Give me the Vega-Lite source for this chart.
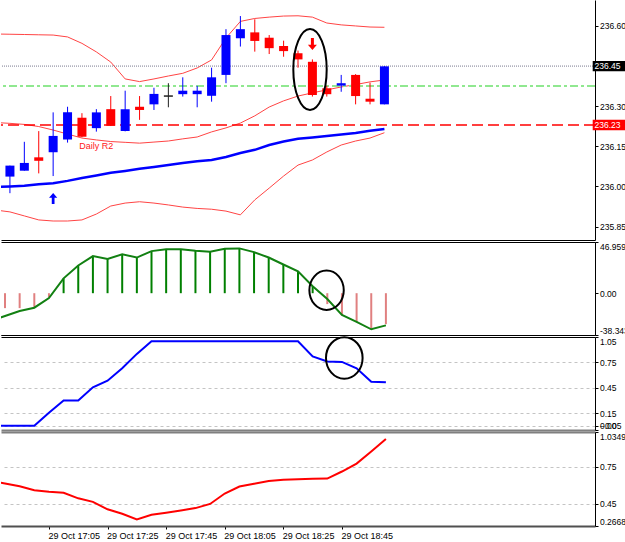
{
  "$schema": "https://vega.github.io/schema/vega-lite/v6.json",
  "background": "#ffffff",
  "padding": 0,
  "spacing": 2,
  "bounds": "flush",
  "config": {
    "view": {"stroke": null},
    "axis": {"labelFont": "Liberation Sans", "labelFontSize": 8.5, "labelColor": "#000000", "tickColor": "#000000", "domainColor": "#000000", "tickSize": 3, "labelPadding": 1.5, "labelOverlap": false, "title": null, "grid": false},
    "text": {"font": "Liberation Sans"}
  },
  "datasets": {
    "bars": [
      {"t": "2007-10-29T16:45:00", "bu": 236.570, "bm": 236.239, "bl": 235.912, "ma": 235.998, "osc": -25.4, "k": 0, "r": 0.638},
      {"t": "2007-10-29T16:50:00", "o": 236.037, "h": 236.078, "l": 235.975, "c": 236.078, "bu": 236.569, "bm": 236.236, "bl": 235.905, "ma": 236.000, "osc": -20.9, "hist": -13.7, "k": 0, "r": 0.614},
      {"t": "2007-10-29T16:55:00", "o": 236.059, "h": 236.167, "l": 236.059, "c": 236.088, "bu": 236.568, "bm": 236.232, "bl": 235.890, "ma": 236.003, "osc": -16.3, "hist": -13.7, "k": 0, "r": 0.591},
      {"t": "2007-10-29T17:00:00", "o": 236.109, "h": 236.207, "l": 236.049, "c": 236.096, "bu": 236.567, "bm": 236.224, "bl": 235.875, "ma": 236.008, "osc": -13.3, "hist": -13.3, "k": 0, "r": 0.559},
      {"t": "2007-10-29T17:05:00", "o": 236.128, "h": 236.277, "l": 236.039, "c": 236.189, "bu": 236.566, "bm": 236.211, "bl": 235.871, "ma": 236.012, "osc": -4.5, "hist": -3.8, "k": 0.155, "r": 0.546},
      {"t": "2007-10-29T17:10:00", "o": 236.176, "h": 236.298, "l": 236.164, "c": 236.277, "bu": 236.559, "bm": 236.196, "bl": 235.871, "ma": 236.021, "osc": 13.6, "hist": 13.6, "k": 0.30, "r": 0.538},
      {"t": "2007-10-29T17:15:00", "o": 236.257, "h": 236.274, "l": 236.184, "c": 236.186, "bu": 236.535, "bm": 236.181, "bl": 235.875, "ma": 236.032, "osc": 25.4, "hist": 25.4, "k": 0.30, "r": 0.493},
      {"t": "2007-10-29T17:20:00", "o": 236.218, "h": 236.289, "l": 236.205, "c": 236.277, "bu": 236.503, "bm": 236.174, "bl": 235.897, "ma": 236.041, "osc": 34.0, "hist": 34.0, "k": 0.455, "r": 0.464},
      {"t": "2007-10-29T17:25:00", "o": 236.289, "h": 236.338, "l": 236.226, "c": 236.227, "bu": 236.465, "bm": 236.168, "bl": 235.927, "ma": 236.051, "osc": 31.3, "hist": 31.3, "k": 0.533, "r": 0.403},
      {"t": "2007-10-29T17:30:00", "o": 236.207, "h": 236.358, "l": 236.206, "c": 236.289, "bu": 236.402, "bm": 236.165, "bl": 235.938, "ma": 236.058, "osc": 35.7, "hist": 35.7, "k": 0.68, "r": 0.367},
      {"t": "2007-10-29T17:35:00", "o": 236.298, "h": 236.338, "l": 236.249, "c": 236.286, "bu": 236.392, "bm": 236.162, "bl": 235.943, "ma": 236.066, "osc": 32.7, "hist": 32.7, "k": 0.85, "r": 0.321},
      {"t": "2007-10-29T17:40:00", "o": 236.307, "h": 236.369, "l": 236.286, "c": 236.346, "bu": 236.402, "bm": 236.166, "bl": 235.938, "ma": 236.073, "osc": 38.6, "hist": 38.6, "k": 1.0, "r": 0.358},
      {"t": "2007-10-29T17:45:00", "o": 236.338, "h": 236.386, "l": 236.296, "c": 236.338, "bu": 236.413, "bm": 236.170, "bl": 235.931, "ma": 236.080, "osc": 40.2, "hist": 40.2, "k": 1.0, "r": 0.375},
      {"t": "2007-10-29T17:50:00", "o": 236.345, "h": 236.408, "l": 236.336, "c": 236.358, "bu": 236.423, "bm": 236.178, "bl": 235.923, "ma": 236.088, "osc": 40.2, "hist": 40.2, "k": 1.0, "r": 0.393},
      {"t": "2007-10-29T17:55:00", "o": 236.345, "h": 236.376, "l": 236.296, "c": 236.358, "bu": 236.443, "bm": 236.185, "bl": 235.918, "ma": 236.094, "osc": 39.0, "hist": 39.0, "k": 1.0, "r": 0.413},
      {"t": "2007-10-29T18:00:00", "o": 236.339, "h": 236.444, "l": 236.317, "c": 236.408, "bu": 236.473, "bm": 236.204, "bl": 235.915, "ma": 236.099, "osc": 38.1, "hist": 38.1, "k": 1.0, "r": 0.447},
      {"t": "2007-10-29T18:05:00", "o": 236.417, "h": 236.588, "l": 236.386, "c": 236.566, "bu": 236.555, "bm": 236.219, "bl": 235.908, "ma": 236.110, "osc": 40.8, "hist": 40.8, "k": 1.0, "r": 0.532},
      {"t": "2007-10-29T18:10:00", "o": 236.554, "h": 236.637, "l": 236.523, "c": 236.588, "bu": 236.617, "bm": 236.237, "bl": 235.894, "ma": 236.125, "osc": 41.1, "hist": 41.1, "k": 1.0, "r": 0.589},
      {"t": "2007-10-29T18:15:00", "o": 236.576, "h": 236.625, "l": 236.504, "c": 236.544, "bu": 236.628, "bm": 236.264, "bl": 235.950, "ma": 236.137, "osc": 37.7, "hist": 37.7, "k": 1.0, "r": 0.612},
      {"t": "2007-10-29T18:20:00", "o": 236.556, "h": 236.566, "l": 236.495, "c": 236.517, "bu": 236.633, "bm": 236.297, "bl": 235.994, "ma": 236.155, "osc": 32.7, "hist": 32.7, "k": 1.0, "r": 0.634},
      {"t": "2007-10-29T18:25:00", "o": 236.525, "h": 236.545, "l": 236.485, "c": 236.506, "bu": 236.637, "bm": 236.320, "bl": 236.039, "ma": 236.168, "osc": 26.3, "hist": 26.3, "k": 1.0, "r": 0.645},
      {"t": "2007-10-29T18:30:00", "o": 236.498, "h": 236.508, "l": 236.444, "c": 236.475, "bu": 236.638, "bm": 236.338, "bl": 236.080, "ma": 236.178, "osc": 20.0, "hist": 20.0, "k": 1.0, "r": 0.649},
      {"t": "2007-10-29T18:35:00", "o": 236.466, "h": 236.475, "l": 236.336, "c": 236.342, "bu": 236.633, "bm": 236.350, "bl": 236.099, "ma": 236.183, "osc": 6.4, "hist": 6.4, "k": 0.82, "r": 0.653},
      {"t": "2007-10-29T18:40:00", "o": 236.367, "h": 236.376, "l": 236.336, "c": 236.345, "bu": 236.611, "bm": 236.361, "bl": 236.129, "ma": 236.189, "osc": -5.4, "hist": -10.0, "k": 0.76, "r": 0.654},
      {"t": "2007-10-29T18:45:00", "o": 236.377, "h": 236.417, "l": 236.354, "c": 236.386, "bu": 236.604, "bm": 236.372, "bl": 236.155, "ma": 236.194, "osc": -20.0, "hist": -20.3, "k": 0.755, "r": 0.712},
      {"t": "2007-10-29T18:50:00", "o": 236.417, "h": 236.420, "l": 236.307, "c": 236.338, "bu": 236.600, "bm": 236.381, "bl": 236.170, "ma": 236.200, "osc": -26.3, "hist": -26.3, "k": 0.68, "r": 0.777},
      {"t": "2007-10-29T18:55:00", "o": 236.328, "h": 236.388, "l": 236.307, "c": 236.317, "bu": 236.596, "bm": 236.391, "bl": 236.181, "ma": 236.208, "osc": -33.1, "hist": -32.4, "k": 0.52, "r": 0.875},
      {"t": "2007-10-29T19:00:00", "o": 236.307, "h": 236.450, "l": 236.307, "c": 236.449, "bu": 236.595, "bm": 236.398, "bl": 236.201, "ma": 236.215, "osc": -29.5, "hist": -28.4, "k": 0.514, "r": 0.977}
    ],
    "levels": [
      {"name": "Bid", "price": 236.45},
      {"name": "Pivot", "price": 236.376},
      {"name": "Daily R2", "price": 236.23}
    ],
    "notes": [
      {"panel": "price", "kind": "up", "t": "2007-10-29T17:05:00", "v": 235.955},
      {"panel": "price", "kind": "down", "t": "2007-10-29T18:35:00", "v": 236.533},
      {"panel": "price", "kind": "ring", "t": "2007-10-29T18:34:10", "v": 236.437},
      {"panel": "price", "kind": "label", "t": "2007-10-29T17:20:00", "v": 236.153, "text": "Daily R2"},
      {"panel": "osc", "kind": "ring", "t": "2007-10-29T18:39:45", "v": 2.7},
      {"panel": "stoch", "kind": "ring", "t": "2007-10-29T18:45:48", "v": 0.802}
    ]
  },
  "vconcat": [
    {
      "width": 594,
      "height": 240,
      "layer": [
        {
          "data": {"name": "bars"},
          "mark": {"type": "line", "clip": true, "color": "#ff4444", "strokeWidth": 1},
          "encoding": {
            "x": {"field": "t", "type": "temporal", "scale": {"domain": [{"year": 2007, "month": 10, "date": 29, "hours": 16, "minutes": 48, "seconds": 38}, {"year": 2007, "month": 10, "date": 29, "hours": 20, "minutes": 11, "seconds": 22}], "nice": false}, "axis": {"orient": "bottom", "title": null, "labels": false, "ticks": false, "domain": true, "domainColor": "#000000", "grid": false}},
            "y": {"field": "bu", "type": "quantitative", "scale": {"domain": [235.8, 236.697], "nice": false, "zero": false}, "axis": {"orient": "right", "title": null, "values": [236.6, 236.3, 236.15, 236.0, 235.85], "tickCount": 20, "format": ".2f", "domain": true, "grid": false}}
          }
        },
        {
          "data": {"name": "bars"},
          "mark": {"type": "line", "clip": true, "color": "#ff4444", "strokeWidth": 1},
          "encoding": {
            "x": {"field": "t", "type": "temporal"},
            "y": {"field": "bm", "type": "quantitative", "scale": {"domain": [235.8, 236.697], "nice": false, "zero": false}}
          }
        },
        {
          "data": {"name": "bars"},
          "mark": {"type": "line", "clip": true, "color": "#ff4444", "strokeWidth": 1},
          "encoding": {
            "x": {"field": "t", "type": "temporal"},
            "y": {"field": "bl", "type": "quantitative", "scale": {"domain": [235.8, 236.697], "nice": false, "zero": false}}
          }
        },
        {
          "data": {"name": "bars"},
          "mark": {"type": "line", "clip": true, "color": "#0000ff", "strokeWidth": 2.5},
          "encoding": {
            "x": {"field": "t", "type": "temporal"},
            "y": {"field": "ma", "type": "quantitative", "scale": {"domain": [235.8, 236.697], "nice": false, "zero": false}}
          }
        },
        {
          "data": {"name": "levels"},
          "transform": [{"filter": "datum.name == 'Bid'"}],
          "mark": {"type": "rule", "color": "#7a7a90", "strokeWidth": 1, "strokeDash": [1, 1]},
          "encoding": {
            "y": {"field": "price", "type": "quantitative", "scale": {"domain": [235.8, 236.697], "nice": false, "zero": false}}
          }
        },
        {
          "data": {"name": "levels"},
          "transform": [{"filter": "datum.name == 'Pivot'"}],
          "mark": {"type": "rule", "color": "#90e890", "strokeWidth": 2, "strokeDash": [8, 3, 3, 3]},
          "encoding": {
            "y": {"field": "price", "type": "quantitative", "scale": {"domain": [235.8, 236.697], "nice": false, "zero": false}}
          }
        },
        {
          "data": {"name": "levels"},
          "transform": [{"filter": "datum.name == 'Daily R2'"}],
          "mark": {"type": "rule", "color": "#ff0000", "strokeWidth": 1.5, "strokeDash": [11, 5]},
          "encoding": {
            "y": {"field": "price", "type": "quantitative", "scale": {"domain": [235.8, 236.697], "nice": false, "zero": false}}
          }
        },
        {
          "data": {"name": "bars"},
          "transform": [{"filter": "isValid(datum.o)"}],
          "mark": {"type": "rule", "strokeWidth": 1, "clip": true},
          "encoding": {
            "x": {"field": "t", "type": "temporal"},
            "y": {"field": "l", "type": "quantitative", "scale": {"domain": [235.8, 236.697], "nice": false, "zero": false}},
            "y2": {"field": "h"},
            "color": {"condition": [{"test": "datum.c == datum.o", "value": "#202020"}, {"test": "datum.c > datum.o", "value": "#0000ff"}], "value": "#ff0000"}
          }
        },
        {
          "data": {"name": "bars"},
          "transform": [{"filter": "isValid(datum.o) && datum.o != datum.c"}],
          "mark": {"type": "bar", "width": 9, "clip": true},
          "encoding": {
            "x": {"field": "t", "type": "temporal"},
            "y": {"field": "o", "type": "quantitative", "scale": {"domain": [235.8, 236.697], "nice": false, "zero": false}},
            "y2": {"field": "c"},
            "color": {"condition": {"test": "datum.c > datum.o", "value": "#0000ff"}, "value": "#ff0000"}
          }
        },
        {
          "data": {"name": "bars"},
          "transform": [{"filter": "isValid(datum.o) && datum.o == datum.c"}],
          "mark": {"type": "point", "shape": "stroke", "size": 81, "filled": false, "strokeWidth": 1.5, "color": "#202020", "opacity": 1},
          "encoding": {
            "x": {"field": "t", "type": "temporal"},
            "y": {"field": "o", "type": "quantitative", "scale": {"domain": [235.8, 236.697], "nice": false, "zero": false}}
          }
        },
        {
          "data": {"name": "notes"},
          "transform": [{"filter": "datum.kind == 'up'"}],
          "mark": {"type": "point", "shape": "M 0 -1 L 0.75 -0.15 L 0.25 -0.15 L 0.25 1 L -0.25 1 L -0.25 -0.15 L -0.75 -0.15 Z", "size": 121, "filled": true, "color": "#0000ff", "opacity": 1},
          "encoding": {
            "x": {"field": "t", "type": "temporal"},
            "y": {"field": "v", "type": "quantitative", "scale": {"domain": [235.8, 236.697], "nice": false, "zero": false}}
          }
        },
        {
          "data": {"name": "notes"},
          "transform": [{"filter": "datum.kind == 'down'"}],
          "mark": {"type": "point", "shape": "M 0 1 L 0.75 0.15 L 0.25 0.15 L 0.25 -1 L -0.25 -1 L -0.25 0.15 L -0.75 0.15 Z", "size": 144, "filled": true, "color": "#ff0000", "opacity": 1},
          "encoding": {
            "x": {"field": "t", "type": "temporal"},
            "y": {"field": "v", "type": "quantitative", "scale": {"domain": [235.8, 236.697], "nice": false, "zero": false}}
          }
        },
        {
          "data": {"name": "notes"},
          "transform": [{"filter": "datum.kind == 'ring' && datum.panel == 'price'"}],
          "mark": {"type": "point", "shape": "M -0.412 0 A 0.412 1 0 1 0 0.412 0 A 0.412 1 0 1 0 -0.412 0 Z", "size": 6561, "filled": false, "color": "#000000", "strokeWidth": 2, "opacity": 1},
          "encoding": {
            "x": {"field": "t", "type": "temporal"},
            "y": {"field": "v", "type": "quantitative", "scale": {"domain": [235.8, 236.697], "nice": false, "zero": false}}
          }
        },
        {
          "data": {"name": "notes"},
          "transform": [{"filter": "datum.kind == 'label'"}],
          "mark": {"type": "text", "align": "center", "baseline": "middle", "fontSize": 9, "color": "#ff2020"},
          "encoding": {
            "x": {"field": "t", "type": "temporal"},
            "y": {"field": "v", "type": "quantitative", "scale": {"domain": [235.8, 236.697], "nice": false, "zero": false}},
            "text": {"field": "text"}
          }
        },
        {
          "data": {"name": "levels"},
          "transform": [{"filter": "datum.name != 'Pivot'"}],
          "mark": {"type": "point", "shape": "M 0.27 -0.52 H 3.6 V 0.52 H 0.27 Z", "size": 400, "filled": true, "opacity": 1, "strokeWidth": 0},
          "encoding": {
            "x": {"datum": {"year": 2007, "month": 10, "date": 29, "hours": 20, "minutes": 11, "seconds": 22}, "type": "temporal"},
            "y": {"field": "price", "type": "quantitative", "scale": {"domain": [235.8, 236.697], "nice": false, "zero": false}},
            "color": {"field": "name", "type": "nominal", "scale": {"domain": ["Bid", "Daily R2"], "range": ["#000000", "#ff0000"]}, "legend": null}
          }
        },
        {
          "data": {"name": "levels"},
          "transform": [{"filter": "datum.name != 'Pivot'"}],
          "mark": {"type": "text", "align": "left", "baseline": "middle", "dx": 4.5, "fontSize": 8.5, "color": "#ffffff"},
          "encoding": {
            "x": {"datum": {"year": 2007, "month": 10, "date": 29, "hours": 20, "minutes": 11, "seconds": 22}, "type": "temporal"},
            "y": {"field": "price", "type": "quantitative", "scale": {"domain": [235.8, 236.697], "nice": false, "zero": false}},
            "text": {"field": "price", "format": ".2f"}
          }
        }
      ]
    },
    {
      "width": 594,
      "height": 93,
      "layer": [
        {
          "data": {"name": "bars"},
          "transform": [{"filter": "isValid(datum.hist)"}],
          "mark": {"type": "rule", "strokeWidth": 2, "clip": true},
          "encoding": {
            "x": {"field": "t", "type": "temporal", "scale": {"domain": [{"year": 2007, "month": 10, "date": 29, "hours": 16, "minutes": 48, "seconds": 38}, {"year": 2007, "month": 10, "date": 29, "hours": 20, "minutes": 11, "seconds": 22}], "nice": false}, "axis": {"orient": "bottom", "title": null, "labels": false, "ticks": false, "domain": true, "domainColor": "#000000", "grid": false}},
            "y": {"field": "hist", "type": "quantitative", "scale": {"domain": [-38.343, 46.9592], "nice": false, "zero": false}, "axis": {"orient": "right", "title": null, "values": [46.9592, 0, -38.343], "tickCount": 20, "labelExpr": "datum.value == 0 ? '0.00' : toString(datum.value)", "labelFlush": true, "grid": true, "gridColor": {"condition": {"test": "datum.value == 0", "value": "transparent"}, "value": "#000000"}}},
            "y2": {"datum": 0},
            "color": {"condition": {"test": "datum.hist > 0", "value": "#008000"}, "value": "#e08080"}
          }
        },
        {
          "data": {"name": "bars"},
          "mark": {"type": "line", "clip": true, "color": "#128012", "strokeWidth": 2},
          "encoding": {
            "x": {"field": "t", "type": "temporal"},
            "y": {"field": "osc", "type": "quantitative", "scale": {"domain": [-38.343, 46.9592], "nice": false, "zero": false}}
          }
        },
        {
          "data": {"name": "notes"},
          "transform": [{"filter": "datum.kind == 'ring' && datum.panel == 'osc'"}],
          "mark": {"type": "point", "shape": "M -0.873 0 A 0.873 1 0 1 0 0.873 0 A 0.873 1 0 1 0 -0.873 0 Z", "size": 1552, "filled": false, "color": "#000000", "strokeWidth": 2, "opacity": 1},
          "encoding": {
            "x": {"field": "t", "type": "temporal"},
            "y": {"field": "v", "type": "quantitative", "scale": {"domain": [-38.343, 46.9592], "nice": false, "zero": false}}
          }
        }
      ]
    },
    {
      "width": 594,
      "height": 93,
      "layer": [
        {
          "data": {"name": "bars"},
          "mark": {"type": "line", "clip": true, "color": "#0000ff", "strokeWidth": 2},
          "encoding": {
            "x": {"field": "t", "type": "temporal", "scale": {"domain": [{"year": 2007, "month": 10, "date": 29, "hours": 16, "minutes": 48, "seconds": 38}, {"year": 2007, "month": 10, "date": 29, "hours": 20, "minutes": 11, "seconds": 22}], "nice": false}, "axis": {"orient": "bottom", "title": null, "labels": false, "ticks": false, "domain": true, "domainColor": "#808080", "domainWidth": 2, "grid": false}},
            "y": {"field": "k", "type": "quantitative", "scale": {"domain": [-0.05, 1.05], "nice": false, "zero": false}, "axis": {"orient": "right", "title": null, "values": [1.05, 0.75, 0.45, 0.15, 0, -0.05], "tickCount": 20, "format": ".2f", "labelFlush": true, "labelOverlap": false, "grid": true, "gridColor": {"condition": {"test": "datum.value == 1.05", "value": "#000000"}, "value": "#c4c4c4"}, "gridDash": {"condition": {"test": "datum.value == 1.05", "value": []}, "value": [3, 3]}}}
          }
        },
        {
          "data": {"name": "notes"},
          "transform": [{"filter": "datum.kind == 'ring' && datum.panel == 'stoch'"}],
          "mark": {"type": "point", "shape": "M -0.88 0 A 0.88 1 0 1 0 0.88 0 A 0.88 1 0 1 0 -0.88 0 Z", "size": 1731, "filled": false, "color": "#000000", "strokeWidth": 2, "opacity": 1},
          "encoding": {
            "x": {"field": "t", "type": "temporal"},
            "y": {"field": "v", "type": "quantitative", "scale": {"domain": [-0.05, 1.05], "nice": false, "zero": false}}
          }
        }
      ]
    },
    {
      "width": 594,
      "height": 94,
      "layer": [
        {
          "data": {"name": "bars"},
          "mark": {"type": "line", "clip": true, "color": "#ff0000", "strokeWidth": 2},
          "encoding": {
            "x": {"field": "t", "type": "temporal", "scale": {"domain": [{"year": 2007, "month": 10, "date": 29, "hours": 16, "minutes": 48, "seconds": 38}, {"year": 2007, "month": 10, "date": 29, "hours": 20, "minutes": 11, "seconds": 22}], "nice": false}, "axis": {"orient": "bottom", "title": null, "values": [{"year": 2007, "month": 10, "date": 29, "hours": 17, "minutes": 5}, {"year": 2007, "month": 10, "date": 29, "hours": 17, "minutes": 25}, {"year": 2007, "month": 10, "date": 29, "hours": 17, "minutes": 45}, {"year": 2007, "month": 10, "date": 29, "hours": 18, "minutes": 5}, {"year": 2007, "month": 10, "date": 29, "hours": 18, "minutes": 25}, {"year": 2007, "month": 10, "date": 29, "hours": 18, "minutes": 45}], "tickCount": 20, "format": "%d %b %H:%M", "labelFontSize": 9, "labelAlign": "left", "labelFlush": false, "labelOverlap": false, "labelBaseline": "top", "labelOffset": -1, "labelPadding": 2, "ticks": true, "domain": true, "domainColor": "#505050", "domainWidth": 2, "grid": false}},
            "y": {"field": "r", "type": "quantitative", "scale": {"domain": [0.2668, 1.0349], "nice": false, "zero": false}, "axis": {"orient": "right", "title": null, "values": [1.0349, 0.75, 0.45, 0.2668], "tickCount": 20, "labelExpr": "toString(datum.value)", "labelFlush": true, "grid": true, "gridColor": {"condition": {"test": "datum.value == 1.0349", "value": "#808080"}, "value": "#c4c4c4"}, "gridWidth": {"condition": {"test": "datum.value == 1.0349", "value": 2}, "value": 1}, "gridDash": {"condition": {"test": "datum.value == 1.0349", "value": []}, "value": [3, 3]}}}
          }
        }
      ]
    }
  ]
}
